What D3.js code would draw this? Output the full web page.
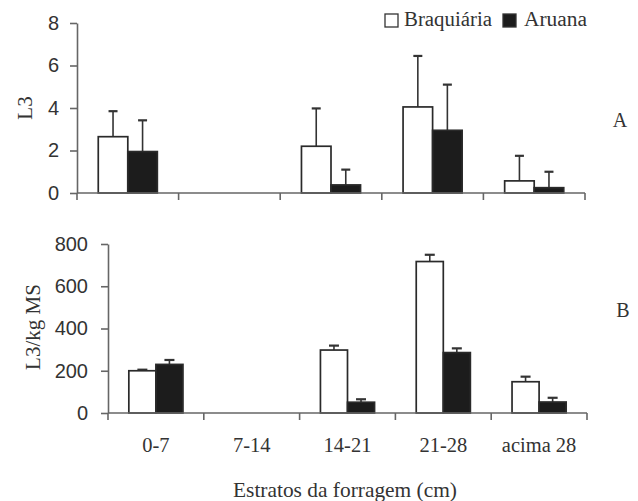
<!DOCTYPE html>
<html><head><meta charset="utf-8">
<script src="https://cdn.jsdelivr.net/npm/d3@7"></script>
<style>body{margin:0;background:#fff}</style>
</head><body>
<script>
const categories = ["0-7", "7-14", "14-21", "21-28", "acima 28"];
const series = ["Braquiária", "Aruana"];
// Panel A: L3
const aBraq = [2.65, 0, 2.2, 4.05, 0.57];
const aBraqErr = [3.85, null, 3.98, 6.45, 1.75];
const aAru = [1.95, 0, 0.38, 2.95, 0.25];
const aAruErr = [3.42, null, 1.1, 5.1, 1.0];
const aTicks = [0, 2, 4, 6, 8];
// Panel B: L3/kg MS
const bBraq = [200, 0, 298, 717, 148];
const bBraqErr = [205, null, 319, 749, 172];
const bAru = [230, 0, 51, 286, 52];
const bAruErr = [251, null, 65, 306, 72];
const bTicks = [0, 200, 400, 600, 800];

const W = 638, H = 501;
const svg = d3.select("body").append("svg").attr("width", W).attr("height", H);
const txt = "#333", axc = "#666";
const serif = "'Liberation Serif', 'Times New Roman', serif";
const sans = "'Liberation Sans', Arial, sans-serif";

function panel(opt) {
  const x = d3.scaleBand().domain(categories).range([opt.x0, opt.x1]).padding(0);
  const xs = d3.scaleBand().domain(series).range([0, x.bandwidth()]).paddingInner(0).paddingOuter(opt.outer);
  const y = d3.scaleLinear().domain([0, opt.max]).range([opt.y0, opt.y1]);
  const g = svg.append("g");
  const rows = categories.map((c, i) => ({c, v: [opt.braq[i], opt.aru[i]], e: [opt.braqErr[i], opt.aruErr[i]]}));
  rows.forEach(r => {
    series.forEach((s, k) => {
      if (!r.v[k]) return;
      const bx = x(r.c) + xs(s);
      const bw = xs.bandwidth();
      if (r.e[k] != null) {
        const cx = bx + bw / 2;
        g.append("line").attr("x1", cx).attr("x2", cx).attr("y1", y(r.v[k])).attr("y2", y(r.e[k]))
          .attr("stroke", "#333").attr("stroke-width", 1.6);
        g.append("line").attr("x1", cx - opt.cap).attr("x2", cx + opt.cap).attr("y1", y(r.e[k])).attr("y2", y(r.e[k]))
          .attr("stroke", "#333").attr("stroke-width", 2.2);
      }
      g.append("rect").attr("x", bx).attr("y", y(r.v[k])).attr("width", bw).attr("height", y(0) - y(r.v[k]))
        .attr("fill", k === 0 ? "#fff" : "#1c1c1c").attr("stroke", "#2a2a2a").attr("stroke-width", 1.7);
    });
  });
  const ya = g.append("g").attr("transform", `translate(${opt.x0},0)`)
    .call(d3.axisLeft(y).tickValues(opt.ticks).tickSize(7).tickPadding(opt.tp).tickSizeOuter(0));
  ya.select(".domain").attr("stroke", axc).attr("stroke-width", 1.6);
  ya.selectAll(".tick line").attr("stroke", axc).attr("stroke-width", 1.6);
  ya.selectAll("text").attr("font-family", sans).attr("font-size", 20).attr("fill", txt);
  const bounds = categories.map(c => x(c)).concat([opt.x1]);
  g.append("line").attr("x1", opt.x0).attr("x2", opt.x1).attr("y1", y(0)).attr("y2", y(0))
    .attr("stroke", axc).attr("stroke-width", 1.6);
  bounds.forEach(b => g.append("line").attr("x1", b).attr("x2", b).attr("y1", y(0)).attr("y2", y(0) + 7)
    .attr("stroke", axc).attr("stroke-width", 1.6));
  if (opt.labels) {
    categories.forEach(c => g.append("text").attr("x", x(c) + x.bandwidth() / 2).attr("y", opt.labelY)
      .attr("text-anchor", "middle").attr("font-family", serif).attr("font-size", 20.5).attr("fill", txt).text(c));
  }
  g.append("text").attr("transform", `translate(${opt.ylx},${opt.yly}) rotate(-90)`)
    .attr("text-anchor", "middle").attr("font-family", serif).attr("font-size", 21).attr("fill", txt).text(opt.ylabel);
  g.append("text").attr("x", opt.px).attr("y", opt.py).attr("text-anchor", "middle")
    .attr("font-family", serif).attr("font-size", 20).attr("fill", txt).text(opt.plabel);
}

panel({x0: 77, x1: 585, y0: 193, y1: 23, max: 8, ticks: aTicks, outer: 0.72, cap: 4.5,
  braq: aBraq, aru: aAru, braqErr: aBraqErr, aruErr: aAruErr, tp: 11,
  ylabel: "L3", ylx: 32, yly: 108, plabel: "A", px: 620, py: 127, labels: false});
panel({x0: 108, x1: 587, y0: 413, y1: 244, max: 800, ticks: bTicks, outer: 0.77, cap: 5,
  braq: bBraq, aru: bAru, braqErr: bBraqErr, aruErr: bAruErr, tp: 13,
  ylabel: "L3/kg MS", ylx: 40, yly: 327, plabel: "B", px: 623, py: 317, labels: true, labelY: 452});

svg.append("text").attr("x", 345).attr("y", 497).attr("text-anchor", "middle")
  .attr("font-family", serif).attr("font-size", 21).attr("fill", txt)
  .attr("textLength", 224).attr("lengthAdjust", "spacingAndGlyphs").text("Estratos da forragem (cm)");

const leg = svg.append("g");
const legX = [385, 503], legTX = [404, 524], legLen = [88, 63];
series.forEach((s, k) => {
  leg.append("rect").attr("x", legX[k]).attr("y", 14).attr("width", 13).attr("height", 13)
    .attr("fill", k === 0 ? "#fff" : "#1c1c1c").attr("stroke", "#333").attr("stroke-width", 1.3);
  leg.append("text").attr("x", legTX[k]).attr("y", 26).attr("font-family", serif).attr("font-size", 20)
    .attr("textLength", legLen[k]).attr("lengthAdjust", "spacingAndGlyphs")
    .attr("fill", txt).text(s);
});
</script>
</body></html>
